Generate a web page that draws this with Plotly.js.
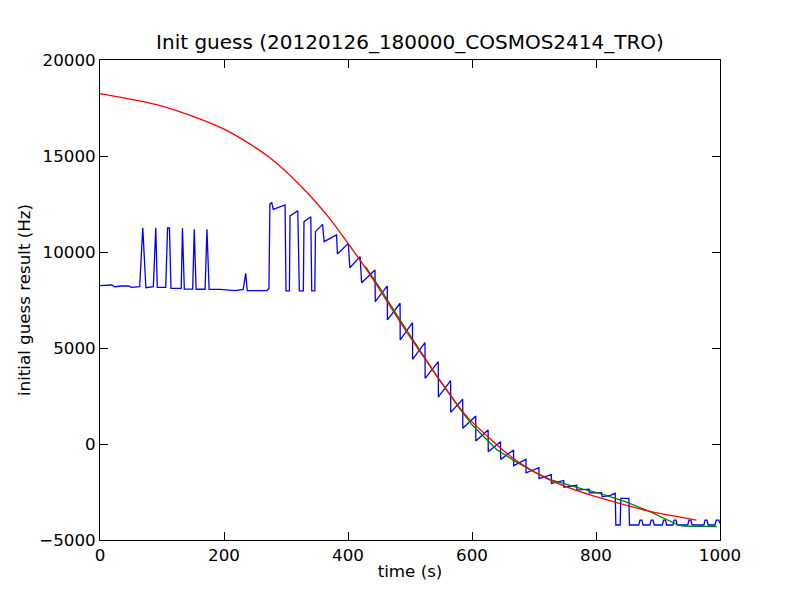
<!DOCTYPE html>
<html>
<head>
<meta charset="utf-8">
<script src="https://cdn.plot.ly/plotly-3.0.1.min.js"></script>
<style>html,body{margin:0;padding:0;background:#fff;}#chart{width:800px;height:600px;}</style>
</head>
<body>
<div id="chart"></div>
<script>
// Blue: raw initial guess result
const blueT = [0,10,19,24,35,46,51,64,69,74,86,90,92.4,106,109,112,114.5,131,133,136,149.5,152,155,169.5,172.5,176,194,218,231,235,237.5,269,272.5,274,277,279.5,298.5,300,305.5,306.5,319,321.5,328,329,337.5,340,341.5,346.5,347.5,352,359,361.5,381.5,383,400.5,403,419.5,422,443.5,444,463.4,463.6,484,484.2,504,504.2,524.2,524.4,545.6,545.8,565.5,565.7,585,585.2,606,606.2,626,626.2,646,646.2,667,667.2,687,687.2,708,708.2,728,728.2,748,748.2,769,769.2,789,789.2,806,809,810,823,831,832,839,840,853,854,869,871,874,876,887,889,892,894,907,909,912,914,924,926,929,931,948,950,953,955,974,976,979,981,992,994,998,1000];
const blueV = [8245,8270,8280,8190,8230,8230,8160,8190,11260,8140,8190,11260,8160,8160,11250,11250,8110,8110,11230,8070,8070,11180,8060,8060,11180,8050,8050,7990,8050,8890,7990,7990,8100,12500,12570,12220,12450,7980,7980,11880,12150,7980,7980,11580,11760,11840,7980,7980,11060,11190,11440,10540,10890,9900,10450,9180,9760,8400,9060,7410,8230,6460,7330,5420,6320,4410,5280,3420,4290,2450,3300,1650,2330,820,1460,160,730,-400,120,-800,-310,-1130,-800,-1500,-1230,-1800,-1600,-2050,-1900,-2250,-2150,-2400,-2350,-2550,-2570,-2540,-2750,-2680,-2570,-4220,-4220,-2830,-2830,-4220,-4220,-3960,-3960,-4220,-4220,-3960,-3960,-4220,-4220,-3960,-3960,-4220,-4220,-3960,-3960,-4220,-4220,-3960,-3960,-4220,-4220,-3960,-3960,-4220,-4220,-3960,-3960,-4130];

// Green: fitted guess
const greenT = [428,450,489,546,581,600,640,667,700,726,779,806,847,887,930,940,995];
const greenV = [9250,8200,6200,3400,1800,1000,-300,-850,-1450,-1850,-2350,-2570,-3000,-3520,-4180,-4270,-4300];

// Red: model curve
const redT = [0,100,200,272,325,368,400,436,489,546,581,594,667,720,774,828,887,962];
const redV = [18250,17600,16400,14960,13400,11840,10450,8800,6110,3420,1860,1350,-760,-1790,-2480,-3000,-3510,-3960];

const xTicks = [0,200,400,600,800,1000];
const yTicks = [-5000,0,5000,10000,15000,20000];

const traces = [
  {x: blueT, y: blueV, mode: 'lines', line: {color: '#0000ff', width: 1.3}, hoverinfo: 'skip'},
  {x: greenT, y: greenV, mode: 'lines', line: {color: '#008000', width: 1.3}, hoverinfo: 'skip'},
  {x: redT, y: redV, mode: 'lines', line: {color: '#ff0000', width: 1.3, shape: 'spline', smoothing: 0.8}, hoverinfo: 'skip'}
];

const axisCommon = {
  showgrid: false, zeroline: false, showline: true, linecolor: '#000', linewidth: 1,
  mirror: 'ticks', ticks: 'inside', ticklen: 8, tickwidth: 1, tickcolor: '#000',
  tickfont: {family: 'DejaVu Sans', size: 16.7, color: '#000'}
};

const layout = {
  width: 800, height: 600,
  margin: {l: 100, r: 80, t: 60, b: 60},
  paper_bgcolor: '#fff', plot_bgcolor: '#fff',
  showlegend: false,
  title: {text: 'Init guess (20120126_180000_COSMOS2414_TRO)', font: {family: 'DejaVu Sans', size: 20, color: '#000'},
          x: 0.5125, xanchor: 'center', y: 0.93, yref: 'container', yanchor: 'middle'},
  xaxis: Object.assign({}, axisCommon, {range: [0, 1000], tickvals: xTicks, ticktext: xTicks.map(String),
          title: {text: 'time (s)', font: {family: 'DejaVu Sans', size: 16.7, color: '#000'}, standoff: 1}}),
  yaxis: Object.assign({}, axisCommon, {range: [-5000, 20000], tickvals: yTicks,
          ticktext: yTicks.map(v => v < 0 ? '\u2212' + Math.abs(v) : String(v)),
          title: {text: 'initial guess result (Hz)', font: {family: 'DejaVu Sans', size: 16.7, color: '#000'}, standoff: 4}})
};

Plotly.newPlot('chart', traces, layout, {staticPlot: true, displayModeBar: false});
</script>
</body>
</html>
